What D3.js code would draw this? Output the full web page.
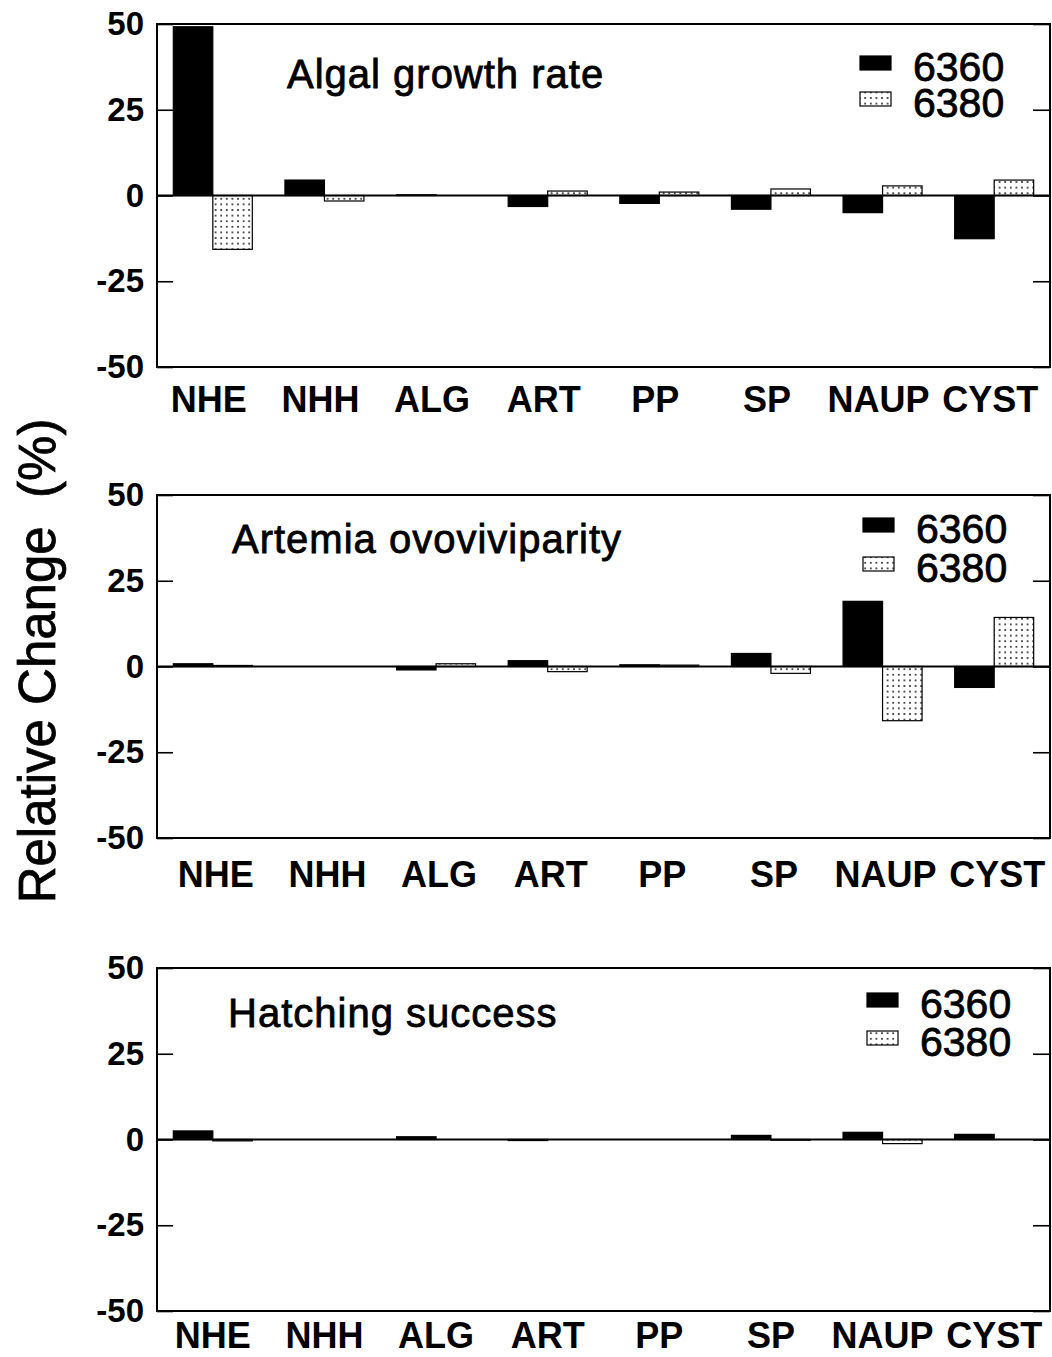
<!DOCTYPE html>
<html>
<head>
<meta charset="utf-8">
<script src="https://cdn.jsdelivr.net/npm/d3@7"></script>
<style>
  html, body { margin: 0; padding: 0; background: #fff; }
  svg { display: block; }
  text { font-family: "Liberation Sans", Arial, Helvetica, sans-serif; fill: #000; }
</style>
</head>
<body>
<svg id="chart" width="1052" height="1357"></svg>
<script>
// Categories and series
const categories = ["NHE", "NHH", "ALG", "ART", "PP", "SP", "NAUP", "CYST"];
const seriesNames = ["6360", "6380"];
const yTicks = [-50, -25, 0, 25, 50];

// Relative change (%) per category, one array per panel and series
const algal6360 = [49.2, 4.5, 0.2, -3.2, -2.3, -4.0, -5.0, -12.6];
const algal6380 = [-15.7, -1.6, 0, 1.3, 1.0, 1.9, 2.8, 4.5];

const ovo6360 = [0.8, 0, -1.0, 1.7, 0.5, 3.8, 19.0, -6.1];
const ovo6380 = [0.3, 0, 0.8, -1.5, 0.4, -2.0, -15.8, 14.3];

const hatch6360 = [2.5, 0, 0.8, -0.3, 0, 1.2, 2.1, 1.5];
const hatch6380 = [-0.4, 0, 0, 0, 0, -0.2, -1.2, 0];

const panelTitles = ["Algal growth rate", "Artemia ovoviviparity", "Hatching success"];
const panelValues = [[algal6360, algal6380], [ovo6360, ovo6380], [hatch6360, hatch6380]];

// Layout of each panel
const layout = [
  { top: 24,  titleX: 287, titleY: 88,  legX: 860, legY: 81,  legGap: 36, labY: 45, labDx: -4 },
  { top: 495, titleX: 232, titleY: 553, legX: 863, legY: 543, legGap: 39, labY: 49, labDx: 3 },
  { top: 968, titleX: 228, titleY: 1027, legX: 867, legY: 1018, legGap: 38, labY: 37, labDx: 0 }
];
const left = 157, right = 1050, panelH = 343;
const barW = 39.5;

const svg = d3.select("#chart");

// Dotted fill for the second series
const defs = svg.append("defs");
const pat = defs.append("pattern")
  .attr("id", "dots")
  .attr("patternUnits", "userSpaceOnUse")
  .attr("width", 5.6).attr("height", 5.6);
pat.append("rect").attr("width", 5.6).attr("height", 5.6).attr("fill", "#fff");
pat.append("circle").attr("cx", 2.8).attr("cy", 2.8).attr("r", 0.95).attr("fill", "#111");

const fills = ["#000", "url(#dots)"];

const x = d3.scaleBand().domain(categories).range([left, right]).padding(0);
const xs = d3.scaleBand().domain(seriesNames)
  .range([x.bandwidth() / 2 - barW, x.bandwidth() / 2 + barW]);

// Plain hyphen for negative tick labels
const tickFmt = d => String(d);

panelValues.forEach((vals, p) => {
  const L = layout[p];
  const y = d3.scaleLinear().domain([-50, 50]).range([L.top + panelH, L.top]);
  const g = svg.append("g");

  // Bars
  seriesNames.forEach((s, si) => {
    g.append("g").selectAll("rect")
      .data(categories.map((c, i) => ({ c, v: vals[si][i] })))
      .join("rect")
      .attr("x", d => x(d.c) + xs(s))
      .attr("width", xs.bandwidth())
      .attr("y", d => y(Math.max(0, d.v)))
      .attr("height", d => Math.abs(y(d.v) - y(0)))
      .attr("fill", fills[si])
      .attr("stroke", "#000")
      .attr("stroke-width", 1.2);
  });

  // Zero line
  g.append("line")
    .attr("x1", left).attr("x2", right)
    .attr("y1", y(0)).attr("y2", y(0))
    .attr("stroke", "#000").attr("stroke-width", 2);

  // Frame
  g.append("rect")
    .attr("x", left).attr("y", L.top)
    .attr("width", right - left).attr("height", panelH)
    .attr("fill", "none").attr("stroke", "#000").attr("stroke-width", 2);

  // Left axis with inward ticks
  const ax = g.append("g").attr("transform", `translate(${left},0)`)
    .call(d3.axisLeft(y).tickValues(yTicks).tickFormat(tickFmt)
      .tickSizeInner(-16).tickSizeOuter(0).tickPadding(13));
  ax.select(".domain").remove();
  ax.selectAll(".tick line").attr("stroke-width", 1.6);
  ax.selectAll("text")
    .attr("font-size", 33).attr("font-weight", "bold")
    .attr("font-family", "Liberation Sans, Arial, sans-serif");

  // Right axis ticks, no labels
  const ar = g.append("g").attr("transform", `translate(${right},0)`)
    .call(d3.axisRight(y).tickValues(yTicks).tickSizeInner(-17).tickSizeOuter(0).tickFormat(""));
  ar.select(".domain").remove();
  ar.selectAll(".tick line").attr("stroke-width", 1.6);

  // Category labels
  const bx = g.append("g").attr("transform", `translate(${L.labDx},${L.top + panelH})`)
    .call(d3.axisBottom(x).tickSize(0));
  bx.select(".domain").remove();
  bx.selectAll("text")
    .attr("y", L.labY).attr("dy", 0)
    .attr("font-size", 36).attr("font-weight", "bold")
    .attr("font-family", "Liberation Sans, Arial, sans-serif");

  // Panel title
  g.append("text")
    .attr("x", L.titleX).attr("y", L.titleY)
    .attr("font-size", 40).attr("letter-spacing", 1)
    .attr("stroke", "#000").attr("stroke-width", 0.8)
    .text(panelTitles[p]);

  // Legend
  seriesNames.forEach((s, si) => {
    const ly = L.legY + si * L.legGap;
    g.append("rect")
      .attr("x", L.legX).attr("y", ly - 25)
      .attr("width", 31).attr("height", 14)
      .attr("fill", fills[si]).attr("stroke", "#000").attr("stroke-width", 1.2);
    g.append("text")
      .attr("x", L.legX + 53).attr("y", ly)
      .attr("font-size", 41)
      .attr("stroke", "#000").attr("stroke-width", 0.8)
      .text(s);
  });
});

// Shared y-axis title
svg.append("text")
  .attr("transform", "translate(55,661) rotate(-90)")
  .attr("text-anchor", "middle")
  .attr("font-size", 51)
  .attr("stroke", "#000").attr("stroke-width", 0.8)
  .style("white-space", "pre")
  .text("Relative Change  (%)");
</script>
</body>
</html>
